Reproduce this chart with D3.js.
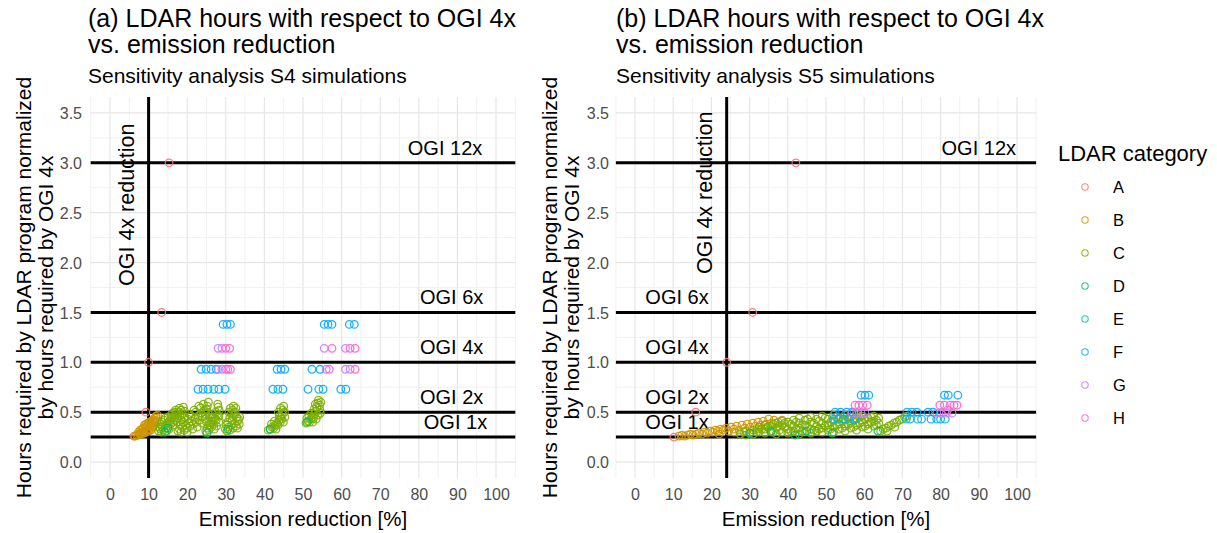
<!DOCTYPE html>
<html><head><meta charset="utf-8">
<script src="https://cdn.jsdelivr.net/npm/d3@7"></script>
<style>body{margin:0;background:#fff}text{font-family:"Liberation Sans",Arial,sans-serif}</style>
</head><body><svg id="c" width="1217" height="533"></svg>
<script>
// ---------- DATA ----------
const categories = ["A","B","C","D","E","F","G","H"];
const colors = ["#F8766D","#CD9600","#7CAE00","#00BE67","#00BFC4","#00A9FF","#C77CFF","#FF61CC"];
const xTicks = [0,10,20,30,40,50,60,70,80,90,100];
const yTicks = [0,0.5,1,1.5,2,2.5,3,3.5];
const ogiLevels = [3.0,1.5,1.0,0.5,0.25];
const ogiNames = ["OGI 12x","OGI 6x","OGI 4x","OGI 2x","OGI 1x"];
// label positions (data units) for each panel
const s4LabelX = [86.8,88.5,88.5,88.5,89.5];
const s5LabelX = [90,11,11,11,11];
const s4Vline = 10.0, s5Vline = 24.0;

// S4 (left panel)
const s4_A = [[15.3,3.0],[13.4,1.5],[10.0,1.0],[9.3,0.5],[6.2,0.26]];
const s4_B = [[6.5,0.26],[6.9,0.27],[7.3,0.27],[7.6,0.28],[7.9,0.29],[8.2,0.28],[8.5,0.30],[8.8,0.29],[9.1,0.31],[9.4,0.30],[9.7,0.32],[10.0,0.31],[10.3,0.33],[10.6,0.32],[7.4,0.30],[7.8,0.32],[8.3,0.33],[8.7,0.34],[9.2,0.35],[9.6,0.36],[10.1,0.37],[10.5,0.36],[10.8,0.38],[11.0,0.35],[11.2,0.40],[11.4,0.37],[11.6,0.42],[11.8,0.39],[12.0,0.44],[12.2,0.41],[12.3,0.47],[11.9,0.46],[11.5,0.44],[11.1,0.42],[10.7,0.41],[10.2,0.40],[9.8,0.39],[9.3,0.38],[8.9,0.37]];
const s4_C = [
 [12.6,0.31],[13.0,0.33],[13.3,0.30],[13.6,0.35],[13.9,0.32],[14.2,0.37],[14.5,0.34],[14.8,0.39],[15.1,0.36],[15.4,0.41],[15.7,0.38],[16.0,0.44],[16.3,0.40],[16.6,0.46],[16.9,0.42],[17.2,0.48],[17.5,0.44],[17.8,0.50],[18.1,0.46],[18.4,0.52],[18.7,0.48],[19.0,0.55],[19.3,0.51],[14.0,0.42],[15.0,0.45],[16.2,0.49],[17.0,0.52],[13.2,0.38],
 [12.9,0.35],[13.5,0.40],[14.3,0.44],[14.7,0.31],[15.3,0.33],[15.8,0.47],[16.5,0.37],[17.4,0.40],[18.0,0.54],[18.5,0.42],[19.2,0.45],[16.8,0.50],
 [17.6,0.31],[18.0,0.33],[18.4,0.30],[18.8,0.35],[19.2,0.32],[19.6,0.37],[20.0,0.34],[20.4,0.39],[20.8,0.36],[21.2,0.41],[21.6,0.38],[22.0,0.44],[22.4,0.40],[22.8,0.46],[23.2,0.42],[23.6,0.49],[24.0,0.45],[24.4,0.52],[24.8,0.48],[25.2,0.56],[25.5,0.60],[25.0,0.53],[21.0,0.46],[22.2,0.50],[23.4,0.54],[20.2,0.43],[19.0,0.40],
 [18.2,0.37],[19.4,0.45],[20.6,0.48],[21.4,0.33],[21.8,0.52],[22.6,0.35],[23.0,0.56],[23.8,0.39],[24.2,0.58],[24.6,0.43],[25.3,0.50],[20.0,0.30],
 [24.8,0.31],[25.2,0.34],[25.6,0.32],[26.0,0.37],[26.3,0.35],[26.6,0.40],[26.9,0.38],[27.2,0.44],[27.5,0.42],[27.8,0.48],[28.1,0.46],[28.3,0.52],[28.0,0.55],[27.4,0.50],[26.8,0.45],[26.2,0.41],[25.5,0.37],
 [25.0,0.40],[25.8,0.45],[26.5,0.48],[27.0,0.33],[27.6,0.36],[28.2,0.40],[27.9,0.58],
 [29.9,0.33],[30.3,0.31],[30.7,0.35],[31.1,0.32],[31.5,0.37],[31.9,0.34],[32.3,0.39],[32.7,0.36],[33.1,0.41],[33.5,0.38],[30.5,0.40],[31.0,0.44],[31.4,0.48],[31.8,0.52],[32.0,0.56],[32.4,0.50],[32.8,0.45],[33.3,0.43],[30.2,0.37],[31.6,0.42],
 [30.0,0.45],[30.8,0.50],[31.2,0.54],[32.2,0.47],[33.0,0.34],[32.6,0.54],[33.6,0.45],
 [41.0,0.32],[41.5,0.33],[42.0,0.35],[42.4,0.34],[42.8,0.37],[43.2,0.39],[43.5,0.37],[43.8,0.42],[44.1,0.40],[44.3,0.45],[44.6,0.48],[44.8,0.52],[45.0,0.56],[44.5,0.43],[43.9,0.46],[45.2,0.50],
 [41.8,0.38],[42.6,0.41],[43.0,0.33],[43.6,0.50],[44.2,0.54],[45.3,0.45],[44.9,0.40],
 [50.8,0.39],[51.3,0.41],[51.7,0.40],[52.0,0.43],[52.4,0.45],[52.7,0.44],[53.0,0.48],[53.3,0.51],[53.6,0.55],[53.8,0.59],[54.0,0.62],[54.3,0.57],[54.4,0.52],[53.9,0.47],[52.2,0.49],[51.0,0.44],
 [51.5,0.46],[52.5,0.40],[52.9,0.53],[53.4,0.43],[54.5,0.49],[53.2,0.58],[54.6,0.60]];
const s4_D = [[14.2,0.30],[15.0,0.34],[25.1,0.29],[30.6,0.33],[41.5,0.33],[51.0,0.40]];
const s4_E = [[26.9,0.73],[43.5,0.73],[54.1,0.73]];
const s4_F = [[22.8,0.73],[24.1,0.73],[25.4,0.73],[28.2,0.73],[29.8,0.73],[42.2,0.73],[44.8,0.73],[51.3,0.73],[55.2,0.73],[59.8,0.73],[61.1,0.73],
 [23.6,0.93],[24.9,0.93],[26.2,0.93],[27.5,0.93],[43.3,0.93],[44.3,0.93],[45.3,0.93],[52.3,0.93],[54.4,0.93],
 [29.3,1.38],[30.3,1.38],[31.2,1.38],[55.5,1.38],[56.5,1.38],[57.5,1.38],[62.0,1.38],[63.3,1.38]];
const s4_G = [[28.0,0.93],[29.0,0.93],[30.0,0.93],[56.0,0.93],[61.0,0.93],[62.2,0.93],[28.0,1.14],[29.0,1.14],[55.5,1.14],[61.0,1.14]];
const s4_H = [[30.5,0.93],[31.2,0.93],[56.8,0.93],[63.5,0.93],[30.0,1.14],[31.0,1.14],[57.5,1.14],[62.2,1.14],[63.5,1.14]];

// S5 (right panel)
const s5_A = [[42.1,3.0],[30.8,1.5],[24.0,1.0],[15.9,0.5],[10.2,0.25]];
const s5_B = [[11.5,0.26],[12.3,0.27],[13.0,0.26],[13.8,0.27],[14.5,0.28],[15.2,0.27],[16.0,0.28],[16.8,0.29],[17.5,0.28],[18.2,0.30],[18.9,0.29],[19.6,0.31],[20.3,0.30],[21.0,0.32],[21.7,0.31],[22.4,0.33],[23.1,0.32],[23.8,0.34],[24.5,0.31],[25.2,0.35],[25.9,0.33],[26.6,0.36],[27.3,0.32],[28.0,0.37],[28.7,0.34],[29.4,0.38],[30.1,0.35],[30.8,0.39],[31.5,0.36],[32.2,0.40],[32.9,0.37],[33.6,0.41],[34.3,0.38],[35.0,0.43],[35.7,0.39],[36.4,0.42],[37.5,0.40],[38.5,0.42],[22.0,0.28],[26.0,0.30],[29.0,0.31],[32.0,0.33],[34.8,0.35]];
const s5_C = [[27.5,0.28],[28.5,0.30],[29.0,0.27],[30.0,0.29],[31.0,0.28],[31.0,0.32],[32.5,0.30],[32.5,0.35],[34.0,0.29],[34.0,0.33],[34.0,0.37],[35.5,0.31],[35.5,0.36],[37.0,0.28],[37.0,0.34],[37.0,0.39],[38.5,0.30],[38.5,0.37],[38.5,0.41],[40.0,0.29],[40.0,0.33],[40.0,0.40],[41.5,0.31],[41.5,0.36],[41.5,0.42],[43.0,0.28],[43.0,0.34],[43.0,0.39],[43.0,0.44],[44.5,0.30],[44.5,0.37],[44.5,0.42],[46.0,0.29],[46.0,0.33],[46.0,0.40],[46.0,0.45],[47.5,0.31],[47.5,0.36],[47.5,0.43],[49.0,0.30],[49.0,0.34],[49.0,0.39],[49.0,0.46],[50.5,0.32],[50.5,0.37],[50.5,0.43],[52.0,0.30],[52.0,0.35],[52.0,0.41],[52.0,0.47],[53.5,0.33],[53.5,0.38],[53.5,0.44],[55.0,0.31],[55.0,0.36],[55.0,0.42],[55.0,0.47],[56.5,0.34],[56.5,0.39],[56.5,0.45],[58.0,0.32],[58.0,0.37],[58.0,0.43],[58.0,0.47],[59.5,0.35],[59.5,0.40],[59.5,0.46],[61.0,0.33],[61.0,0.38],[61.0,0.44],[62.5,0.36],[62.5,0.41],[62.5,0.46],[63.8,0.39],[63.8,0.44],
 [31.8,0.30],[33.2,0.33],[34.8,0.35],[36.2,0.30],[36.2,0.38],[37.8,0.32],[37.8,0.36],[39.2,0.35],[39.2,0.39],[40.8,0.31],[40.8,0.38],[42.2,0.33],[42.2,0.40],[43.8,0.31],[43.8,0.37],[45.2,0.35],[45.2,0.43],[46.8,0.32],[46.8,0.39],[48.2,0.33],[48.2,0.41],[49.8,0.36],[49.8,0.44],[51.2,0.33],[51.2,0.40],[52.8,0.37],[52.8,0.45],[54.2,0.34],[54.2,0.41],[55.8,0.38],[55.8,0.44],[57.2,0.35],[57.2,0.42],[58.8,0.39],[58.8,0.45],[60.2,0.36],[60.2,0.43],[61.8,0.40],[61.8,0.45],[63.2,0.37],[63.2,0.42],
 [64.3,0.31],[65.0,0.33],[65.7,0.34],[66.4,0.36],[67.1,0.37],[67.8,0.39],[68.5,0.40],[69.2,0.42],[69.9,0.43],[70.6,0.45],[71.2,0.46],[66.0,0.31],[68.0,0.35]];
const s5_D = [[30.1,0.29],[35.6,0.30],[41.9,0.27],[45.0,0.31],[51.6,0.29],[63.6,0.31]];
const s5_E = [[53.2,0.43],[56.0,0.43],[71.0,0.43],[74.0,0.43],[79.0,0.43],[81.2,0.43]];
const s5_F = [[59.2,0.67],[60.2,0.67],[61.2,0.67],[81.0,0.67],[82.0,0.67],[84.5,0.67],
 [52.4,0.50],[53.8,0.50],[55.4,0.50],[56.8,0.50],[71.2,0.50],[72.5,0.50],[73.8,0.50],[76.7,0.50],[78.0,0.50],
 [52.0,0.43],[54.5,0.43],[57.5,0.43],[72.0,0.43],[75.0,0.43],[77.5,0.43],[80.0,0.43]];
const s5_G = [[56.8,0.49],[58.0,0.49],[59.2,0.49],[60.2,0.49],[79.0,0.49],[80.2,0.49],[81.5,0.49],[83.0,0.49],[82.5,0.57]];
const s5_H = [[57.6,0.57],[58.6,0.57],[59.6,0.57],[60.8,0.57],[79.8,0.57],[81.0,0.57],[83.5,0.57],[84.3,0.57],[81.8,0.52]];

// ---------- CHART ----------
const svg = d3.select("#c");
const color = d3.scaleOrdinal(categories, colors);

const panels = [
 {title1:"(a) LDAR hours with respect to OGI 4x", title2:"vs. emission reduction", sub:"Sensitivity analysis S4 simulations",
  xr:[90.7,515.3], tx:88, ytitleX:[23,45], tickRight:82, vline:s4Vline, labelX:s4LabelX, vtext:[4.4,2.58],
  series:[s4_A,s4_B,s4_C,s4_D,s4_E,s4_F,s4_G,s4_H]},
 {title1:"(b) LDAR hours with respect to OGI 4x", title2:"vs. emission reduction", sub:"Sensitivity analysis S5 simulations",
  xr:[615.9,1036.1], tx:616, ytitleX:[549,571], tickRight:609, vline:s5Vline, labelX:s5LabelX, vtext:[18.3,2.70],
  series:[s5_A,s5_B,s5_C,s5_D,s5_E,s5_F,s5_G,s5_H]}
];

panels.forEach(p => {
  const x = d3.scaleLinear().domain([-5,105]).range(p.xr);
  const y = d3.scaleLinear().domain([-0.16,3.66]).range([478,97]);
  const g = svg.append("g");
  const [x0,x1] = x.range(), [y0,y1] = y.range();
  // grid
  const xMinor = d3.range(-5,106,10), yMinor = d3.range(0.25,3.6,0.5);
  g.selectAll(".xm").data(xMinor).join("line").attr("x1",d=>x(d)).attr("x2",d=>x(d)).attr("y1",y0).attr("y2",y1).attr("stroke","#f0f0f0").attr("stroke-width",1);
  g.selectAll(".ym").data(yMinor).join("line").attr("y1",d=>y(d)).attr("y2",d=>y(d)).attr("x1",x0).attr("x2",x1).attr("stroke","#f0f0f0").attr("stroke-width",1);
  g.append("g").selectAll("line").data(xTicks).join("line").attr("x1",d=>x(d)).attr("x2",d=>x(d)).attr("y1",y0).attr("y2",y1).attr("stroke","#e6e6e6").attr("stroke-width",1.2);
  g.append("g").selectAll("line").data(yTicks).join("line").attr("y1",d=>y(d)).attr("y2",d=>y(d)).attr("x1",x0).attr("x2",x1).attr("stroke","#e6e6e6").attr("stroke-width",1.2);
  // axes (labels only)
  const xa = d3.axisBottom(x).tickValues(xTicks).tickSize(0).tickPadding(0);
  const xg = g.append("g").attr("transform",`translate(0,${500})`).call(xa);
  xg.select(".domain").remove();
  xg.selectAll("text").attr("dy",0).attr("fill","#4d4d4d").style("font-size","16px").attr("font-family","Liberation Sans, Arial, sans-serif");
  const ya = d3.axisLeft(y).tickValues(yTicks).tickFormat(d3.format(".1f")).tickSize(0).tickPadding(0);
  const yg = g.append("g").attr("transform",`translate(${p.tickRight},0)`).call(ya);
  yg.select(".domain").remove();
  yg.selectAll("text").attr("dy","0.35em").attr("fill","#4d4d4d").style("font-size","16px").attr("font-family","Liberation Sans, Arial, sans-serif");
  // reference lines
  g.selectAll(".hl").data(ogiLevels).join("line").attr("x1",x0).attr("x2",x1).attr("y1",d=>y(d)).attr("y2",d=>y(d)).attr("stroke","#000").attr("stroke-width",3);
  g.append("line").attr("x1",x(p.vline)).attr("x2",x(p.vline)).attr("y1",y0).attr("y2",y1).attr("stroke","#000").attr("stroke-width",3);
  // labels
  g.selectAll(".lab").data(ogiNames).join("text").attr("x",(d,i)=>x(p.labelX[i])).attr("y",(d,i)=>y(ogiLevels[i]+0.15))
    .attr("text-anchor","middle").attr("dominant-baseline","central").style("font-size","20px").attr("fill","#000").text(d=>d);
  g.append("text").attr("transform",`translate(${x(p.vtext[0])},${y(p.vtext[1])}) rotate(-90)`).attr("text-anchor","middle")
    .attr("dominant-baseline","central").style("font-size","21.5px").text("OGI 4x reduction");
  // points
  p.series.forEach((s,i) => {
    g.append("g").selectAll("circle").data(s).join("circle").attr("cx",d=>x(d[0])).attr("cy",d=>y(d[1])).attr("r",3.8)
      .attr("fill","none").attr("stroke",color(categories[i])).attr("stroke-width",1.3).attr("stroke-opacity",0.9);
  });
  // titles
  g.append("text").attr("x",p.tx).attr("y",27).style("font-size","25px").text(p.title1);
  g.append("text").attr("x",p.tx).attr("y",53).style("font-size","25px").text(p.title2);
  g.append("text").attr("x",p.tx).attr("y",83).style("font-size","21px").text(p.sub);
  g.append("text").attr("x",(x0+x1)/2).attr("y",526).attr("text-anchor","middle").style("font-size","20.5px").text("Emission reduction [%]");
  const cy = (y0+y1)/2;
  g.append("text").attr("transform",`translate(${p.ytitleX[0]},${cy}) rotate(-90)`).attr("text-anchor","middle").attr("dominant-baseline","central").style("font-size","21px").text("Hours required by LDAR program normalized");
  g.append("text").attr("transform",`translate(${p.ytitleX[1]},${cy}) rotate(-90)`).attr("text-anchor","middle").attr("dominant-baseline","central").style("font-size","21px").text("by hours required by OGI 4x");
});

// legend
const lg = svg.append("g");
lg.append("text").attr("x",1058).attr("y",161).style("font-size","22px").text("LDAR category");
const ly = d3.scalePoint().domain(categories).range([187,418]);
lg.selectAll("circle").data(categories).join("circle").attr("cx",1085).attr("cy",d=>ly(d)).attr("r",3.2)
  .attr("fill","none").attr("stroke",d=>color(d)).attr("stroke-width",1.1).attr("stroke-opacity",0.85);
lg.selectAll(".lt").data(categories).join("text").attr("x",1113).attr("y",d=>ly(d)).attr("dominant-baseline","central").style("font-size","16.5px").text(d=>d);
</script></body></html>
